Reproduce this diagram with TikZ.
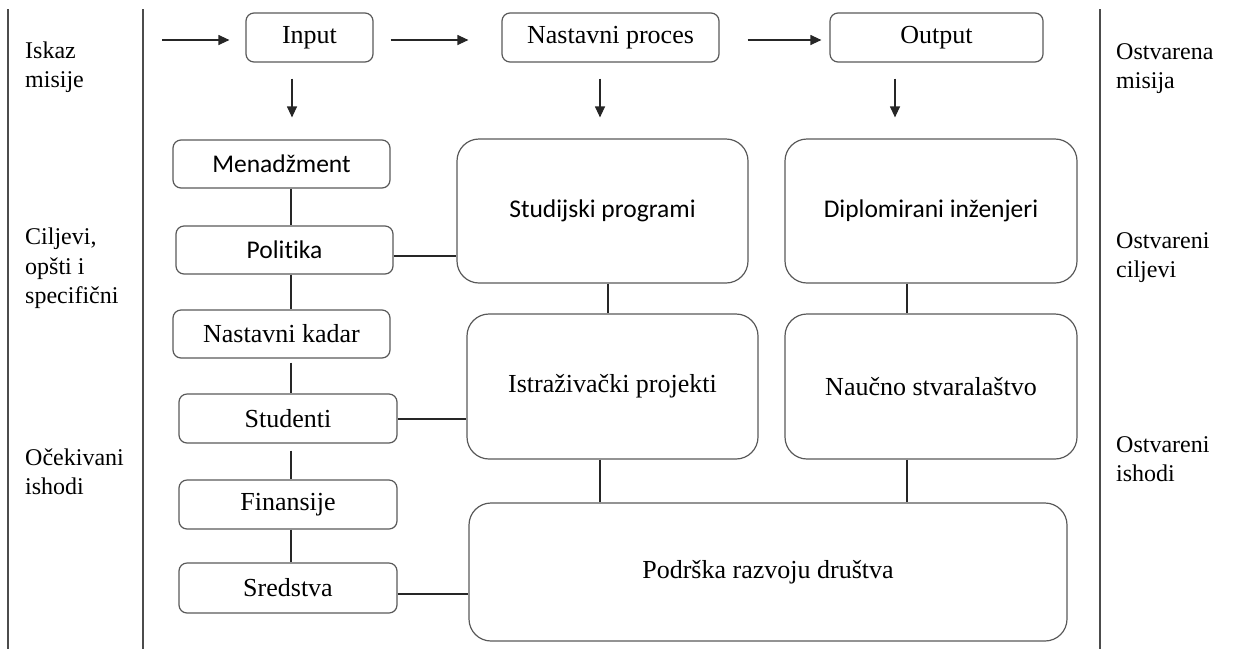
\documentclass[tikz,border=0pt]{standalone}
\usepackage{fontspec}
\setmainfont{Liberation Serif}
\newfontfamily\calfont[Ligatures=NoCommon]{Carlito}
\usetikzlibrary{arrows.meta,calc}
\begin{document}
\begin{tikzpicture}[x=1pt,y=-1pt,
  box/.style={draw=black!65,line width=1.2pt,inner sep=0pt,rounded corners=8pt,
    font=\fontsize{26}{30}\selectfont},
  bigbox/.style={box,rounded corners=22pt},
  cal/.style={font=\fontsize{25.5}{30}\selectfont\calfont},
  con/.style={draw=black!85,line width=1.2pt},
  arr/.style={con,-{Triangle[length=11pt,width=10pt]}},
  sep/.style={draw=black!70,line width=1.2pt},
  lab/.style={anchor=base west,inner sep=0pt,font=\fontsize{24}{29}\selectfont}]
\useasboundingbox (0,0) rectangle (1236,649);
% separators
\draw[sep] (8,9) -- (8,649);
\draw[sep] (143,9) -- (143,649);
\draw[sep] (1100,9) -- (1100,649);
% side labels
\node[lab] (l1a) at (25,58) {Iskaz};
\node[lab] (l1b) at (25,87) {misije};
\node[lab] (l2a) at (25,244) {Ciljevi,};
\node[lab] (l2b) at (25,274) {opšti i};
\node[lab] (l2c) at (25,303) {specifični};
\node[lab] (l3a) at (25,465) {Očekivani};
\node[lab] (l3b) at (25,494) {ishodi};
\node[lab] (r1a) at (1116,59) {Ostvarena};
\node[lab] (r1b) at (1116,88) {misija};
\node[lab] (r2a) at (1116,248) {Ostvareni};
\node[lab] (r2b) at (1116,277) {ciljevi};
\node[lab] (r3a) at (1116,452) {Ostvareni};
\node[lab] (r3b) at (1116,481) {ishodi};
% top row
\node[box,minimum width=127pt,minimum height=49pt] (in) at (309.5,37.5) {Input};
\node[box,minimum width=217pt,minimum height=49pt] (np) at (610.5,37.5) {Nastavni proces};
\node[box,minimum width=213pt,minimum height=49pt] (out) at (936.5,37.5) {Output};
% left column
\node[box,cal,minimum width=217pt,minimum height=48pt] (men) at (281.5,164) {Menadžment};
\node[box,cal,minimum width=217pt,minimum height=48pt] (pol) at (284.5,250) {Politika};
\node[box,minimum width=217pt,minimum height=48pt] (nk) at (281.5,334) {Nastavni kadar};
\node[box,minimum width=218pt,minimum height=49pt] (stu) at (288,418.5) {Studenti};
\node[box,minimum width=218pt,minimum height=49pt] (fin) at (288,504.5) {Finansije};
\node[box,minimum width=218pt,minimum height=50pt] (sre) at (288,588) {Sredstva};
% big boxes
\node[bigbox,cal,minimum width=291pt,minimum height=144pt] (sp) at (602.5,211) {Studijski programi};
\node[bigbox,cal,minimum width=292pt,minimum height=144pt] (dip) at (931,211) {Diplomirani inženjeri};
\node[bigbox,minimum width=291pt,minimum height=145pt] (ist) at (612.5,386.5) {Istraživački projekti};
\node[bigbox,minimum width=292pt,minimum height=145pt] (nau) at (931,386.5) {Naučno stvaralaštvo};
\node[bigbox,minimum width=598pt,minimum height=138pt] (pod) at (768,572) {Podrška razvoju društva};
% helper coordinates
\coordinate (s0) at (162,40);
\coordinate (lx) at (291,0);
\coordinate (ax1) at (292,0);
\coordinate (ax2) at (600,0);
\coordinate (ax3) at (895,0);
\coordinate (v1) at (608,0);
\coordinate (v2) at (907,0);
\coordinate (v3) at (600,0);
\coordinate (h1) at (0,256);
\coordinate (h2) at (0,419);
\coordinate (h3) at (0,594);
\coordinate (h0) at (0,40);
% top arrows
\draw[arr] (s0) -- ($(in.west |- h0)+(-16,0)$);
\draw[arr] ($(in.east |- h0)+(17,0)$) -- ($(np.west |- h0)+(-33,0)$);
\draw[arr] ($(np.east |- h0)+(28,0)$) -- ($(out.west |- h0)+(-8,0)$);
% down arrows
\draw[arr] ($(in.south -| ax1)+(0,16)$) -- ($(men.north -| ax1)+(0,-22)$);
\draw[arr] ($(np.south -| ax2)+(0,16)$) -- ($(sp.north -| ax2)+(0,-21)$);
\draw[arr] ($(out.south -| ax3)+(0,16)$) -- ($(dip.north -| ax3)+(0,-21)$);
% left column links
\draw[con] (men.south -| lx) -- (pol.north -| lx);
\draw[con] (pol.south -| lx) -- (nk.north -| lx);
\draw[con] ($(nk.south -| lx)+(0,4)$) -- (stu.north -| lx);
\draw[con] ($(stu.south -| lx)+(0,7)$) -- (fin.north -| lx);
\draw[con] (fin.south -| lx) -- (sre.north -| lx);
% horizontal links
\draw[con] (pol.east |- h1) -- (sp.west |- h1);
\draw[con] (stu.east |- h2) -- (ist.west |- h2);
\draw[con] (sre.east |- h3) -- (pod.west |- h3);
% vertical links
\draw[con] (sp.south -| v1) -- (ist.north -| v1);
\draw[con] (dip.south -| v2) -- (nau.north -| v2);
\draw[con] (ist.south -| v3) -- (pod.north -| v3);
\draw[con] (nau.south -| v2) -- (pod.north -| v2);
\end{tikzpicture}
\end{document}
